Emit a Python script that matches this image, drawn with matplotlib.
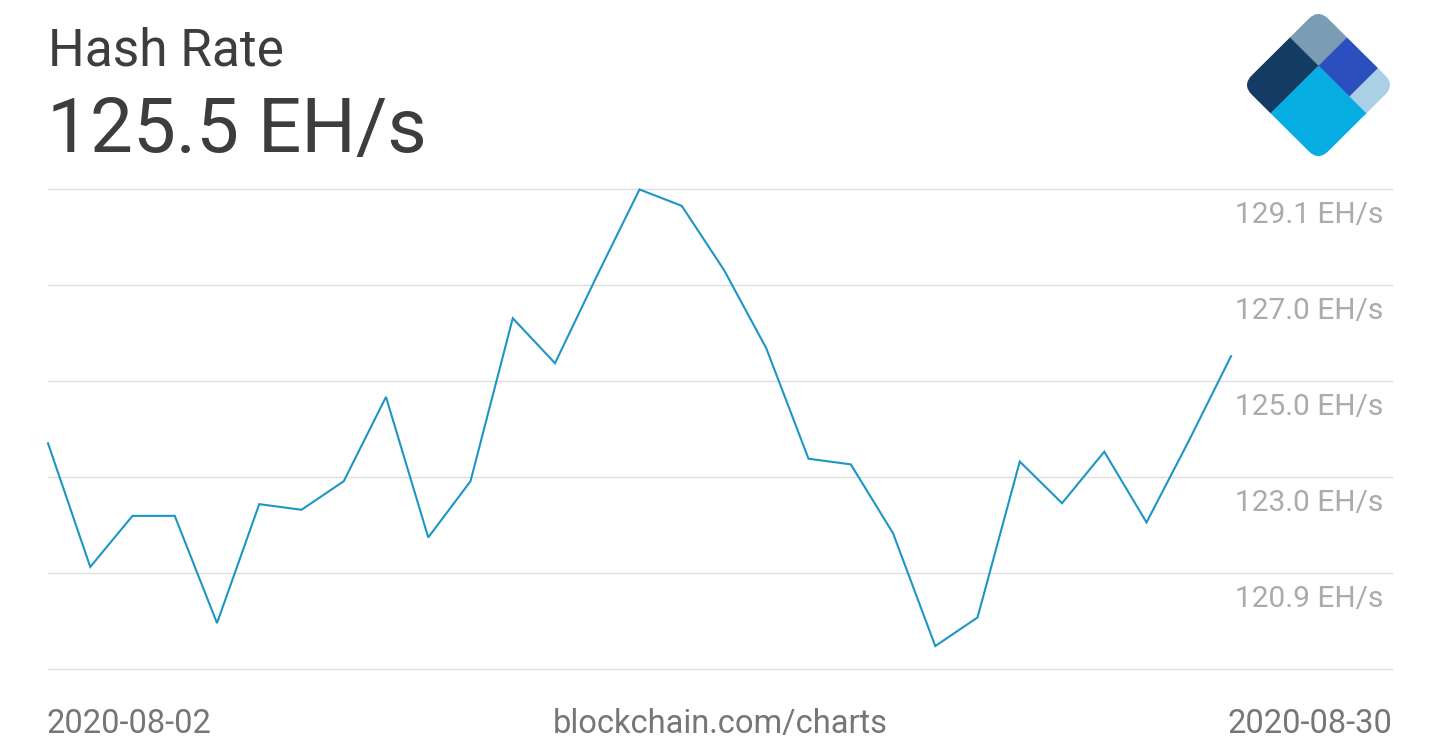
import matplotlib
matplotlib.use("Agg")
import matplotlib.pyplot as plt
from matplotlib.patches import Rectangle, FancyBboxPatch
from matplotlib.transforms import Affine2D
import pandas as pd

plt.rcParams["font.family"] = ["Roboto", "DejaVu Sans"]

# daily hash rate, EH/s
DATES = pd.date_range("2020-08-02", "2020-08-30", freq="D")
HASH_RATE = [
    123.67, 121.03, 122.12, 122.12, 119.83, 122.37, 122.25, 122.86, 124.66,
    121.66, 122.86, 126.34, 125.38, 127.26, 129.09, 128.74, 127.37, 125.70,
    123.34, 123.22, 121.75, 119.34, 119.95, 123.28, 122.39, 123.49, 121.98,
    123.72, 125.53,
]
CURRENT = "125.5 EH/s"

GRID_VALUES = [118.85, 120.9, 122.95, 125.0, 127.05, 129.1]
TICK_VALUES = [129.1, 127.05, 125.0, 122.95, 120.9]
TICK_LABELS = ["129.1 EH/s", "127.0 EH/s", "125.0 EH/s", "123.0 EH/s", "120.9 EH/s"]

LINE_COLOR = "#1c96c5"
GRID_COLOR = "#dedede"
TITLE_COLOR = "#3d3d3d"
TICK_COLOR = "#ababab"
FOOT_COLOR = "#767676"

W, H = 1440, 750
fig = plt.figure(figsize=(W / 100, H / 100), dpi=100)


def px(x, y):
    """pixel (from top-left) -> figure fraction"""
    return x / W, 1 - y / H


# main plot area
ax = fig.add_axes([48 / W, 1 - 669 / H, (1392 - 48) / W, (669 - 189) / H])
ax.plot(DATES, HASH_RATE, color=LINE_COLOR, linewidth=1.5, clip_on=False,
        solid_joinstyle="miter")
ax.set_ylim(GRID_VALUES[0], GRID_VALUES[-1])
ax.set_xlim(DATES[0], DATES[0] + pd.Timedelta(days=31.81))
ax.set_yticks(GRID_VALUES)
ax.grid(axis="y", color=GRID_COLOR, linewidth=1.0)
for gl in ax.get_ygridlines():
    gl.set_clip_on(False)
ax.set_axisbelow(True)
ax.tick_params(left=False, bottom=False, labelleft=False, labelbottom=False)
for s in ax.spines.values():
    s.set_visible(False)

for val, lab in zip(TICK_VALUES, TICK_LABELS):
    ax.annotate(lab, xy=(1, val), xycoords=("axes fraction", "data"),
                xytext=(-9, -26), textcoords="offset pixels",
                ha="right", va="center", fontsize=21.5, color=TICK_COLOR)

# header
fig.text(*px(48, 65), "Hash Rate", fontsize=37, color=TITLE_COLOR, va="baseline")
fig.text(*px(47, 152), CURRENT, fontsize=55, color=TITLE_COLOR, va="baseline")

# footer
fig.text(*px(47, 733), DATES[0].strftime("%Y-%m-%d"), fontsize=23.5,
         color=FOOT_COLOR, va="baseline", ha="left")
fig.text(*px(720, 733), "blockchain.com/charts", fontsize=23.5,
         color=FOOT_COLOR, va="baseline", ha="center")
fig.text(*px(1392, 733), DATES[-1].strftime("%Y-%m-%d"), fontsize=23.5,
         color=FOOT_COLOR, va="baseline", ha="right")

# logo: rounded square turned 45 degrees, four colour blocks
lax = fig.add_axes([1242 / W, 1 - 161 / H, 153 / W, 152 / H])
lax.set_xlim(-1, 1)
lax.set_ylim(-1, 1)
lax.axis("off")
rot = Affine2D().from_values(1, -1, -1, -1, 0, 1) + lax.transData
clip = FancyBboxPatch((0, 0), 1, 1, boxstyle="round,pad=0,rounding_size=0.13",
                      transform=rot, facecolor="none", edgecolor="none")
lax.add_patch(clip)
blocks = [
    ((0, 0), 0.375, 0.375, "#7b9db3"),
    ((0, 0.375), 0.375, 0.625, "#133b63"),
    ((0.375, 0), 0.405, 0.375, "#2b4fbe"),
    ((0.78, 0), 0.22, 0.375, "#a9d0e5"),
    ((0.375, 0.375), 0.625, 0.625, "#06ade3"),
]
for xy, w, h, c in blocks:
    r = Rectangle(xy, w, h, transform=rot, facecolor=c, edgecolor=c, linewidth=0.3)
    lax.add_patch(r)
    r.set_clip_path(clip)

fig.savefig("out.png", dpi=100, facecolor="white")
